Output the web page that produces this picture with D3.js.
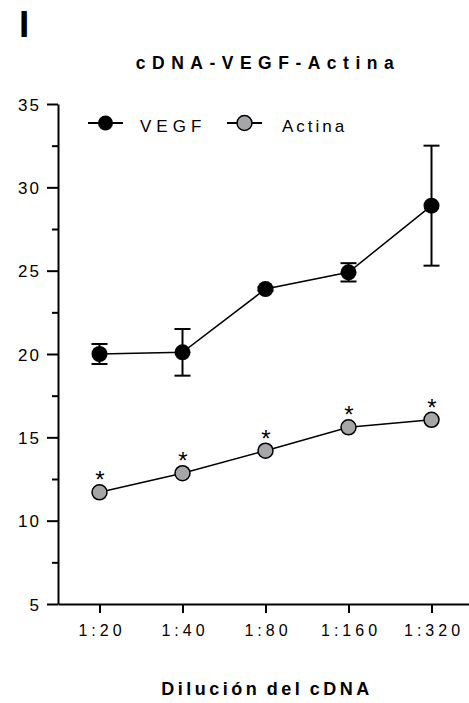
<!DOCTYPE html>
<html>
<head>
<meta charset="utf-8">
<script src="https://cdn.jsdelivr.net/npm/d3@7"></script>
<style>
  html, body { margin: 0; padding: 0; background: #fff; }
  svg { display: block; font-family: "Liberation Sans", Arial, sans-serif; }
</style>
</head>
<body>
<svg id="chart" width="469" height="703"></svg>
<script>
// Dilution series and Ct-style values for the two transcripts
const dilutions = ["1:20", "1:40", "1:80", "1:160", "1:320"];
const vegfMean = [20.0, 20.1, 23.9, 24.9, 28.9];
const vegfErr  = [0.6, 1.4, 0.1, 0.55, 3.6];
const actinaMean = [11.7, 12.85, 14.2, 15.6, 16.05];
const actinaSig = ["*", "*", "*", "*", "*"];
const yTicks = [5, 10, 15, 20, 25, 30, 35];
const yMinorTicks = [7.5, 12.5, 17.5, 22.5, 27.5, 32.5];
const seriesNames = ["VEGF", "Actina"];

const svg = d3.select("#chart");
const plotLeft = 58, plotRight = 473, plotTop = 104, plotBottom = 604;

const x = d3.scalePoint().domain(dilutions).range([plotLeft, plotRight]).padding(0.5);
const y = d3.scaleLinear().domain([5, 35]).range([plotBottom, plotTop]);

const black = "#000";
const grey = "#a6a6a9";

// Panel letter
svg.append("text").attr("x", 19).attr("y", 37)
  .attr("font-size", 37).attr("font-weight", "bold").text("I");

// Title
svg.append("text").attr("x", 268).attr("y", 69)
  .attr("text-anchor", "middle").attr("font-size", 17.5).attr("font-weight", "bold")
  .style("letter-spacing", "6.5px").text("cDNA-VEGF-Actina");

// Y axis (major ticks with labels)
const yAxis = svg.append("g").attr("transform", `translate(${plotLeft},0)`)
  .call(d3.axisLeft(y).tickValues(yTicks).tickSize(11).tickSizeOuter(0).tickPadding(8)
    .tickFormat(d3.format("d")));
yAxis.select(".domain").attr("stroke-width", 2);
yAxis.selectAll(".tick line").attr("stroke-width", 2);
yAxis.selectAll(".tick text").attr("font-size", 17).attr("fill", black)
  .style("letter-spacing", "2px").attr("dx", 2).attr("dy", "0.36em");

// Y axis minor ticks
const yMinor = svg.append("g").attr("transform", `translate(${plotLeft},0)`)
  .call(d3.axisLeft(y).tickValues(yMinorTicks).tickSize(6).tickFormat(""));
yMinor.select(".domain").remove();
yMinor.selectAll(".tick line").attr("stroke-width", 2);

// X axis
const xAxis = svg.append("g").attr("transform", `translate(0,${plotBottom})`)
  .call(d3.axisBottom(x).tickSize(9).tickSizeOuter(0).tickPadding(12));
xAxis.select(".domain").attr("stroke-width", 2);
xAxis.selectAll(".tick line").attr("stroke-width", 2);
xAxis.selectAll(".tick text").attr("font-size", 16).attr("fill", black)
  .style("letter-spacing", "4px").attr("dx", 2);

// X axis title
svg.append("text").attr("x", 267).attr("y", 695)
  .attr("text-anchor", "middle").attr("font-size", 18).attr("font-weight", "bold")
  .style("letter-spacing", "3.5px").style("word-spacing", "-2px")
  .text("Dilución del cDNA");

const line = d3.line().x((d, i) => x(dilutions[i])).y(d => y(d));

// VEGF line, error bars, markers
svg.append("path").datum(vegfMean).attr("d", line)
  .attr("fill", "none").attr("stroke", black).attr("stroke-width", 1.5);

const eb = svg.append("g").selectAll("g").data(vegfMean).join("g");
eb.append("line")
  .attr("x1", (d, i) => x(dilutions[i])).attr("x2", (d, i) => x(dilutions[i]))
  .attr("y1", (d, i) => y(d + vegfErr[i])).attr("y2", (d, i) => y(d - vegfErr[i]))
  .attr("stroke", black).attr("stroke-width", 2);
[1, -1].forEach(s => {
  eb.append("line")
    .attr("x1", (d, i) => x(dilutions[i]) - 8).attr("x2", (d, i) => x(dilutions[i]) + 8)
    .attr("y1", (d, i) => y(d + s * vegfErr[i])).attr("y2", (d, i) => y(d + s * vegfErr[i]))
    .attr("stroke", black).attr("stroke-width", 2);
});
svg.append("g").selectAll("circle").data(vegfMean).join("circle")
  .attr("cx", (d, i) => x(dilutions[i])).attr("cy", d => y(d)).attr("r", 8)
  .attr("fill", black);

// Actina line, markers, significance marks
svg.append("path").datum(actinaMean).attr("d", line)
  .attr("fill", "none").attr("stroke", black).attr("stroke-width", 1.5);
svg.append("g").selectAll("circle").data(actinaMean).join("circle")
  .attr("cx", (d, i) => x(dilutions[i])).attr("cy", d => y(d)).attr("r", 7.5)
  .attr("fill", grey).attr("stroke", black).attr("stroke-width", 1.5);
svg.append("g").selectAll("text").data(actinaMean).join("text")
  .attr("x", (d, i) => x(dilutions[i]) + 0.5).attr("y", d => y(d) - 4)
  .attr("text-anchor", "middle").attr("font-size", 24).attr("fill", black)
  .text((d, i) => actinaSig[i]);

// Legend
const legendItems = [
  { name: seriesNames[0], x: 88, fill: black, stroke: "none", spacing: 5 },
  { name: seriesNames[1], x: 227, fill: grey, stroke: black, spacing: 3 }
];
const lg = svg.append("g").selectAll("g").data(legendItems).join("g")
  .attr("transform", d => `translate(${d.x},123)`);
lg.append("line").attr("x1", 0).attr("x2", 35).attr("y1", 0).attr("y2", 0)
  .attr("stroke", black).attr("stroke-width", 2);
lg.append("circle").attr("cx", 17.5).attr("cy", 0).attr("r", 7.5)
  .attr("fill", d => d.fill).attr("stroke", d => d.stroke).attr("stroke-width", 1.5);
lg.append("text").attr("x", (d, i) => i === 0 ? 52 : 55).attr("y", 9)
  .attr("font-size", 17).attr("fill", black)
  .style("letter-spacing", d => d.spacing + "px").text(d => d.name);
</script>
</body>
</html>
